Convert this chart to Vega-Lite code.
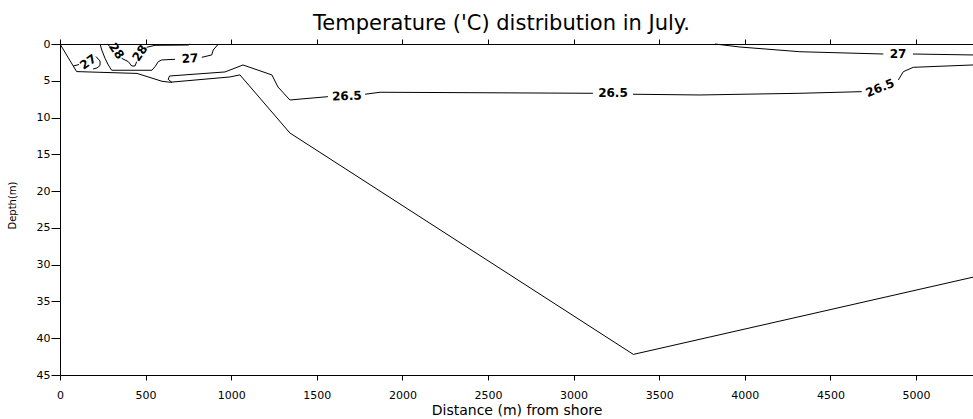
{
  "$schema": "https://vega.github.io/schema/vega-lite/v6.json",
  "width": 913,
  "height": 331,
  "autosize": "none",
  "padding": {"left": 60, "top": 44, "right": 0, "bottom": 44},
  "background": "white",
  "title": {"text": "Temperature ('C) distribution in July.", "font": "DejaVu Sans", "fontSize": 21, "fontWeight": "normal", "color": "black", "anchor": "middle", "dx": -15, "offset": 4},
  "config": {
    "view": {"stroke": null},
    "axis": {"domainColor": "black", "tickColor": "black", "labelColor": "black", "titleColor": "black", "grid": false, "labelFont": "DejaVu Sans", "titleFont": "DejaVu Sans", "titleFontWeight": "normal", "domainWidth": 1, "tickWidth": 1}
  },
  "datasets": {
    "lines": [
      {"seg": "bath", "o": 1, "x": 0, "y": 0},
      {"seg": "bath", "o": 2, "x": 97, "y": 3.75},
      {"seg": "bath", "o": 3, "x": 450, "y": 4.0},
      {"seg": "bath", "o": 4, "x": 596, "y": 5.07},
      {"seg": "bath", "o": 5, "x": 643, "y": 5.2},
      {"seg": "bath", "o": 6, "x": 993, "y": 4.48},
      {"seg": "bath", "o": 7, "x": 1051, "y": 4.2},
      {"seg": "bath", "o": 8, "x": 1343, "y": 12.1},
      {"seg": "bath", "o": 9, "x": 3349, "y": 42.2},
      {"seg": "bath", "o": 10, "x": 5333, "y": 31.7},

      {"seg": "c265a", "o": 1, "x": 655, "y": 5.25},
      {"seg": "c265a", "o": 2, "x": 632, "y": 4.8},
      {"seg": "c265a", "o": 3, "x": 640, "y": 4.35},
      {"seg": "c265a", "o": 4, "x": 964, "y": 3.8},
      {"seg": "c265a", "o": 5, "x": 1069, "y": 2.85},
      {"seg": "c265a", "o": 6, "x": 1238, "y": 4.21},
      {"seg": "c265a", "o": 7, "x": 1273, "y": 5.84},
      {"seg": "c265a", "o": 8, "x": 1343, "y": 7.61},
      {"seg": "c265a", "o": 9, "x": 1565, "y": 7.16},

      {"seg": "c265b", "o": 1, "x": 1782, "y": 6.83},
      {"seg": "c265b", "o": 2, "x": 1869, "y": 6.56},
      {"seg": "c265b", "o": 3, "x": 3113, "y": 6.7},

      {"seg": "c265c", "o": 1, "x": 3347, "y": 6.83},
      {"seg": "c265c", "o": 2, "x": 3738, "y": 6.93},
      {"seg": "c265c", "o": 3, "x": 4322, "y": 6.7},
      {"seg": "c265c", "o": 4, "x": 4683, "y": 6.48},

      {"seg": "c265d", "o": 1, "x": 4897, "y": 4.89},
      {"seg": "c265d", "o": 2, "x": 4926, "y": 3.76},
      {"seg": "c265d", "o": 3, "x": 4984, "y": 3.17},
      {"seg": "c265d", "o": 4, "x": 5333, "y": 2.85},

      {"seg": "c27ra", "o": 1, "x": 3826, "y": 0},
      {"seg": "c27ra", "o": 2, "x": 3972, "y": 0.41},
      {"seg": "c27ra", "o": 3, "x": 4322, "y": 1.05},
      {"seg": "c27ra", "o": 4, "x": 4809, "y": 1.36},

      {"seg": "c27rb", "o": 1, "x": 4982, "y": 1.36},
      {"seg": "c27rb", "o": 2, "x": 5333, "y": 1.49},

      {"seg": "c27a", "o": 1, "x": 234, "y": 0},
      {"seg": "c27a", "o": 2, "x": 244, "y": 0.82},
      {"seg": "c27a", "o": 3, "x": 263, "y": 1.94},
      {"seg": "c27a", "o": 4, "x": 282, "y": 2.85},
      {"seg": "c27a", "o": 5, "x": 302, "y": 3.57},
      {"seg": "c27a", "o": 6, "x": 537, "y": 3.57},
      {"seg": "c27a", "o": 7, "x": 555, "y": 3.08},
      {"seg": "c27a", "o": 8, "x": 574, "y": 2.4},
      {"seg": "c27a", "o": 9, "x": 594, "y": 2.17},
      {"seg": "c27a", "o": 10, "x": 672, "y": 2.08},

      {"seg": "c27b", "o": 1, "x": 828, "y": 1.81},
      {"seg": "c27b", "o": 2, "x": 886, "y": 1.49},
      {"seg": "c27b", "o": 3, "x": 895, "y": 0.82},
      {"seg": "c27b", "o": 4, "x": 925, "y": 0},

      {"seg": "c28a", "o": 1, "x": 275, "y": 0},
      {"seg": "c28a", "o": 2, "x": 292, "y": 0.34},

      {"seg": "c28b", "o": 1, "x": 360, "y": 1.94},
      {"seg": "c28b", "o": 2, "x": 399, "y": 2.4},
      {"seg": "c28b", "o": 3, "x": 419, "y": 2.99},
      {"seg": "c28b", "o": 4, "x": 438, "y": 2.99},
      {"seg": "c28b", "o": 5, "x": 448, "y": 2.4},

      {"seg": "c28c", "o": 1, "x": 506, "y": 0.45},
      {"seg": "c28c", "o": 2, "x": 555, "y": 0.18},
      {"seg": "c28c", "o": 3, "x": 749, "y": 0.14},
      {"seg": "c28c", "o": 4, "x": 759, "y": 0},

      {"seg": "c27sa", "o": 1, "x": 78, "y": 2.99},
      {"seg": "c27sa", "o": 2, "x": 111, "y": 2.79},

      {"seg": "c27sb", "o": 1, "x": 210, "y": 1.7},
      {"seg": "c27sb", "o": 2, "x": 234, "y": 2.31},
      {"seg": "c27sb", "o": 3, "x": 234, "y": 2.92},
      {"seg": "c27sb", "o": 4, "x": 216, "y": 3.26},
      {"seg": "c27sb", "o": 5, "x": 193, "y": 3.4}
    ],
    "labels": [
      {"x": 164, "y": 2.45, "t": "27", "a": -35},
      {"x": 330, "y": 0.95, "t": "28", "a": 55},
      {"x": 467, "y": 1.22, "t": "28", "a": -56},
      {"x": 759, "y": 1.97, "t": "27", "a": -4},
      {"x": 1676, "y": 7.07, "t": "26.5", "a": -2},
      {"x": 3230, "y": 6.7, "t": "26.5", "a": 0},
      {"x": 4790, "y": 5.98, "t": "26.5", "a": -22},
      {"x": 4895, "y": 1.36, "t": "27", "a": 0}
    ]
  },
  "layer": [
    {
      "data": {"name": "lines"},
      "mark": {"type": "line", "color": "black", "strokeWidth": 1},
      "encoding": {
        "x": {"field": "x", "type": "quantitative", "scale": {"domain": [0, 5333], "nice": false, "zero": false},
              "axis": {"orient": "bottom", "format": "d", "values": [0, 500, 1000, 1500, 2000, 2500, 3000, 3500, 4000, 4500, 5000], "title": "Distance (m) from shore", "labelFontSize": 11, "titleFontSize": 14, "tickSize": 5, "labelPadding": 9, "titlePadding": 3, "labelFlush": false, "labelOverlap": false}},
        "y": {"field": "y", "type": "quantitative", "scale": {"domain": [0, 45], "reverse": true, "nice": false, "zero": false},
              "axis": {"format": "d", "values": [0, 5, 10, 15, 20, 25, 30, 35, 40, 45], "title": "Depth(m)", "labelFontSize": 11, "titleFontSize": 10, "tickSize": 9, "labelPadding": 1, "titleX": -48, "titleY": 161, "titleBaseline": "middle", "titleAlign": "center", "titleAngle": -90, "labelFlush": false, "labelOverlap": false}},
        "detail": {"field": "seg", "type": "nominal"},
        "order": {"field": "o", "type": "quantitative"}
      }
    },
    {
      "data": {"name": "labels"},
      "mark": {"type": "text", "font": "DejaVu Sans", "fontWeight": "bold", "fontSize": 12, "color": "black", "align": "center", "baseline": "middle"},
      "encoding": {
        "x": {"field": "x", "type": "quantitative", "axis": {"orient": "top", "values": [0, 500, 1000, 1500, 2000, 2500, 3000, 3500, 4000, 4500, 5000], "labels": false, "title": null, "tickSize": 5}},
        "y": {"field": "y", "type": "quantitative", "axis": null},
        "text": {"field": "t", "type": "nominal"},
        "angle": {"field": "a", "type": "quantitative", "scale": null}
      }
    }
  ],
  "resolve": {"axis": {"x": "independent", "y": "independent"}}
}
